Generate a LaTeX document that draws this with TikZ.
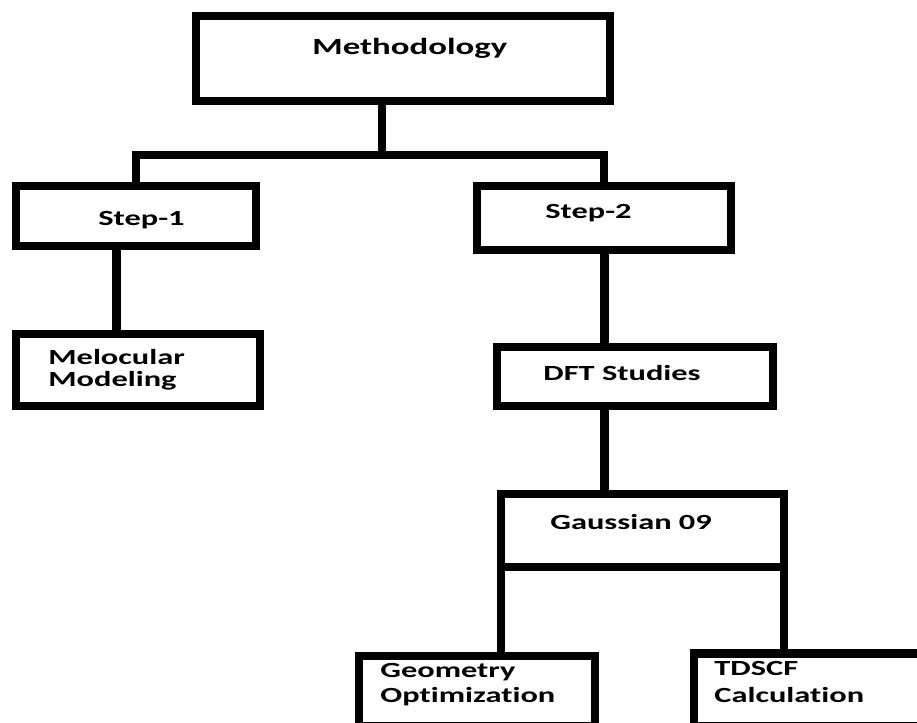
\documentclass[tikz,border=0pt]{standalone}
\usepackage{fontspec}
\newfontfamily\boxfont{Carlito}[UprightFont={* Bold}, FakeStretch=1.5, Ligatures=NoCommon]
\usetikzlibrary{calc}
\tikzset{
  stage/.style={draw, line width=4.25pt, inner sep=0pt, outer sep=0pt},
  stagetext/.style={inner sep=0pt, anchor=base west, align=left,
    font=\boxfont\fontsize{10.8}{12.5}\selectfont},
  link/.style={line width=4.25pt}
}

\begin{document}
\begin{tikzpicture}[x=0.5pt, y=-0.5pt]
		%%%%% START %%%%%
		\useasboundingbox (0,0) rectangle (917,723);
		\clip (0,0) rectangle (917,723);
		
		\node[stage, minimum width=207pt, minimum height=42.5pt] (meth) at (403,58.5) {};
		\node[stage, minimum width=120pt, minimum height=30pt] (step1) at (136,216) {};
		\node[stage, minimum width=127pt, minimum height=32pt] (step2) at (604,218) {};
		\node[stage, minimum width=122pt, minimum height=36pt] (mol) at (138,370) {};
		\node[stage, minimum width=138pt, minimum height=29.5pt] (dft) at (635,376.5) {};
		\node[stage, minimum width=141.5pt, minimum height=36.5pt] (gauss) at (642.5,530.5) {};
		\node[stage, minimum width=118pt, minimum height=35pt] (geom) at (477,691) {};
		\node[stage, minimum width=123pt, minimum height=36.5pt] (tdscf) at (817,690) {};
		
		% two-line labels sit on the baseline of their last line
		\node[stagetext, font=\boxfont\fontsize{11.6}{14}\selectfont] (methtext) at (312,54) {Methodology};
		\node[stagetext] (step1text) at (98,225) {Step-1};
		\node[stagetext] (step2text) at (545,218) {Step-2};
		\node[stagetext, font=\boxfont\fontsize{10.8}{11}\selectfont] (moltext) at (48,386) {Melocular\\Modeling};
		\node[stagetext] (dfttext) at (543,380) {DFT Studies};
		\node[stagetext] (gausstext) at (550,529) {Gaussian 09};
		\node[stagetext] (geomtext) at (380,702.5) {Geometry\\Optimization};
		\node[stagetext, font=\boxfont\fontsize{10.8}{13.5}\selectfont] (tdscftext) at (714,702) {TDSCF\\Calculation};
		
		\coordinate (split) at (382,155);
		\coordinate (leftdrop) at (116.5,0);
		\coordinate (spine) at (604.5,0);
		
		\draw[link] (meth.south -| split) -- (split);
		\draw[link] (step1.north) |- (split) -| (step2.north);
		\draw[link] (step1.south -| leftdrop) -- (mol.north -| leftdrop);
		\draw[link] (step2.south -| spine) -- (dft.north -| spine);
		\draw[link] (dft.south -| spine) -- (gauss.north -| spine);
		\draw[link] (gauss.south west) -- (gauss.south west |- geom.north);
		\draw[link] (gauss.south east) -- (gauss.south east |- tdscf.north);
		%%%%% END %%%%%
\end{tikzpicture}
\end{document}
